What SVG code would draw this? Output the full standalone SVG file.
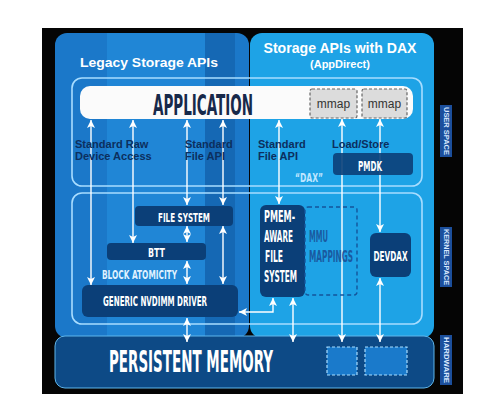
<svg xmlns="http://www.w3.org/2000/svg" width="500" height="412" viewBox="0 0 500 412">
<style>
.cond{font-family:"Liberation Sans Narrow","DejaVu Sans Condensed","Liberation Sans",sans-serif;font-weight:bold;}
.lbl{font-family:"Liberation Sans",Arial,sans-serif;font-weight:bold;font-size:11px;fill:#0c2f5e;}
.head{font-family:"Liberation Sans",Arial,sans-serif;font-weight:bold;fill:#ffffff;}
.wt{fill:#ffffff;}
.box{fill:#0b3f78;}
.outline{fill:none;stroke:#a8ddff;stroke-width:1.6;}
.conn line,.conn polyline{stroke:#ffffff;stroke-width:1.4;fill:none;marker-start:url(#ah);marker-end:url(#ah);}
.side{fill:#1c4f9c;}
.sidet{font-family:"Liberation Sans",Arial,sans-serif;font-weight:bold;font-size:7px;fill:#d8e8ff;}
</style>
<defs>
<marker id="ah" viewBox="0 0 8 8" refX="8" refY="4" markerWidth="8" markerHeight="8" markerUnits="userSpaceOnUse" orient="auto-start-reverse">
<path d="M0,0 L8,4 L0,8 L2,4 z" fill="#ffffff"/>
</marker>
<clipPath id="lp"><rect x="55" y="33" width="194" height="305" rx="12"/></clipPath>
</defs>
<rect x="0" y="0" width="500" height="412" fill="#ffffff"/>
<rect x="42" y="28" width="421" height="366" fill="#050505"/>

<g id="legacy-panel">
<rect x="55" y="33" width="194" height="305" rx="12" fill="#1b78c9"/>
<g clip-path="url(#lp)">
<rect x="107" y="33" width="98" height="305" fill="#2086d6"/>
<rect x="205" y="33" width="30" height="305" fill="#1568b4"/>
</g>
<text class="head" x="80" y="67" font-size="13" textLength="138" lengthAdjust="spacingAndGlyphs">Legacy Storage APIs</text>
</g>
<g id="dax-panel">
<rect x="250" y="33" width="184" height="305" rx="12" fill="#1ea3e6"/>
<text class="head" x="340" y="53" font-size="14" text-anchor="middle" textLength="153" lengthAdjust="spacingAndGlyphs">Storage APIs with DAX</text>
<text class="head" x="340" y="68" font-size="11" text-anchor="middle">(AppDirect)</text>
</g>

<g id="persistent-memory">
<rect x="55" y="336" width="379" height="52" rx="10" fill="#0d4a86" stroke="#5fb6ec" stroke-width="1"/>
<text class="cond wt" x="109" y="372" font-size="30" textLength="164" lengthAdjust="spacingAndGlyphs">PERSISTENT MEMORY</text>
<rect x="327" y="347" width="30" height="28" fill="#1a7acb" stroke="#a8ddff" stroke-width="1.2" stroke-dasharray="3,2"/>
<rect x="365" y="347" width="42" height="28" fill="#1a7acb" stroke="#a8ddff" stroke-width="1.2" stroke-dasharray="3,2"/>
</g>

<g id="user-space">
<rect class="outline" x="72" y="78" width="350" height="108" rx="10"/>
</g>
<g id="kernel-space">
<rect class="outline" x="72" y="193" width="350" height="131" rx="10"/>
</g>

<g id="connectors" class="conn">
<line x1="91" y1="120" x2="91" y2="285"/>
<line x1="133" y1="120" x2="133" y2="243"/>
<line x1="187" y1="120" x2="187" y2="205"/>
<line x1="223" y1="120" x2="223" y2="205"/>
<line x1="187" y1="226" x2="187" y2="242"/>
<line x1="187" y1="261" x2="187" y2="284"/>
<line x1="223" y1="226" x2="223" y2="284"/>
<line x1="187" y1="318" x2="187" y2="342"/>
<line x1="279" y1="120" x2="279" y2="204"/>
<line x1="342" y1="119" x2="342" y2="342"/>
<line x1="380" y1="119" x2="380" y2="232"/>
<line x1="293" y1="298" x2="293" y2="342"/>
<line x1="380" y1="278" x2="380" y2="342"/>
<polyline points="273,298 273,312 239,312"/>
</g>

<g id="application">
<rect x="80" y="86" width="333" height="33" rx="10" fill="#fbfbfb"/>
<text class="cond" transform="translate(153,115) scale(0.6,1)" font-size="28" fill="#17294a" textLength="166.7" lengthAdjust="spacingAndGlyphs">APPLICATION</text>
</g>
<g id="mmap-1">
<rect x="310" y="89" width="47" height="29" rx="2" fill="#dcdcdc" stroke="#666" stroke-width="1.2" stroke-dasharray="3,2"/>
<text x="333.5" y="108" font-family="Liberation Sans,Arial,sans-serif" font-size="12" fill="#333" text-anchor="middle">mmap</text>
</g>
<g id="mmap-2">
<rect x="362" y="89" width="45" height="29" rx="2" fill="#dcdcdc" stroke="#666" stroke-width="1.2" stroke-dasharray="3,2"/>
<text x="384.5" y="108" font-family="Liberation Sans,Arial,sans-serif" font-size="12" fill="#333" text-anchor="middle">mmap</text>
</g>

<g id="label-raw">
<text class="lbl" x="75" y="148">Standard Raw</text>
<text class="lbl" x="75" y="160">Device Access</text>
</g>
<g id="label-file-api">
<text class="lbl" x="185" y="148">Standard</text>
<text class="lbl" x="185" y="160">File API</text>
</g>
<g id="label-file-api-dax">
<text class="lbl" x="258" y="148">Standard</text>
<text class="lbl" x="258" y="160">File API</text>
<text class="cond" x="295" y="182" font-size="12" fill="#bfe6ff" textLength="28" lengthAdjust="spacingAndGlyphs">“DAX”</text>
</g>
<g id="label-loadstore">
<text class="lbl" x="332" y="148">Load/Store</text>
</g>
<g id="pmdk">
<rect x="333" y="153" width="80" height="22" rx="4" class="box" fill-opacity="0.9"/>
<text class="cond wt" x="370" y="171" font-size="14" text-anchor="middle" textLength="24" lengthAdjust="spacingAndGlyphs">PMDK</text>
</g>

<g id="file-system">
<rect x="135" y="206" width="98" height="20" rx="4" class="box"/>
<text class="cond wt" x="184" y="222" font-size="13" text-anchor="middle" textLength="52" lengthAdjust="spacingAndGlyphs">FILE SYSTEM</text>
</g>
<g id="btt">
<rect x="107" y="243" width="99" height="17" rx="4" class="box"/>
<text class="cond wt" x="156.5" y="256.5" font-size="13" text-anchor="middle" textLength="17" lengthAdjust="spacingAndGlyphs">BTT</text>
</g>
<g id="block-atomicity">
<text class="cond" x="102" y="279" font-size="13" fill="#dff1ff" textLength="75" lengthAdjust="spacingAndGlyphs">BLOCK ATOMICITY</text>
</g>
<g id="generic-nvdimm-driver">
<rect x="82" y="285" width="156" height="32" rx="6" class="box"/>
<text class="cond wt" x="155" y="306" font-size="14" text-anchor="middle" textLength="104" lengthAdjust="spacingAndGlyphs">GENERIC NVDIMM DRIVER</text>
</g>
<g id="pmem-aware-fs">
<rect x="260" y="205" width="45" height="92" rx="6" class="box"/>
<text class="cond wt" transform="translate(264,222) scale(0.6,1)" font-size="15" textLength="51.7" lengthAdjust="spacingAndGlyphs">PMEM-</text>
<text class="cond wt" transform="translate(264,242) scale(0.6,1)" font-size="15" textLength="48.3" lengthAdjust="spacingAndGlyphs">AWARE</text>
<text class="cond wt" transform="translate(265,262) scale(0.6,1)" font-size="15" textLength="30" lengthAdjust="spacingAndGlyphs">FILE</text>
<text class="cond wt" transform="translate(264,282) scale(0.6,1)" font-size="15" textLength="55" lengthAdjust="spacingAndGlyphs">SYSTEM</text>
</g>
<g id="mmu-mappings">
<rect x="305" y="207" width="52" height="88" rx="3" fill="none" stroke="#15549a" stroke-width="1.4" stroke-dasharray="4,3"/>
<text class="cond" transform="translate(309,242) scale(0.6,1)" font-size="15" fill="#1a5aa0" textLength="31.7" lengthAdjust="spacingAndGlyphs">MMU</text>
<text class="cond" transform="translate(309,262) scale(0.6,1)" font-size="15" fill="#1a5aa0" textLength="73.3" lengthAdjust="spacingAndGlyphs">MAPPINGS</text>
</g>
<g id="devdax">
<rect x="370" y="233" width="41" height="44" rx="6" class="box"/>
<text class="cond wt" transform="translate(390.5,261) scale(0.6,1)" font-size="14" text-anchor="middle" textLength="56.7" lengthAdjust="spacingAndGlyphs">DEVDAX</text>
</g>

<g id="side-user-space">
<rect class="side" x="440" y="105" width="12" height="52"/>
<text class="sidet" transform="translate(443.5,131) rotate(90)" text-anchor="middle" textLength="48" lengthAdjust="spacingAndGlyphs">USER SPACE</text>
</g>
<g id="side-kernel-space">
<rect class="side" x="440" y="227" width="12" height="60"/>
<text class="sidet" transform="translate(443.5,257) rotate(90)" text-anchor="middle" textLength="56" lengthAdjust="spacingAndGlyphs">KERNEL SPACE</text>
</g>
<g id="side-hardware">
<rect class="side" x="440" y="335" width="12" height="50"/>
<text class="sidet" transform="translate(443.5,360) rotate(90)" text-anchor="middle" textLength="46" lengthAdjust="spacingAndGlyphs">HARDWARE</text>
</g>
</svg>
